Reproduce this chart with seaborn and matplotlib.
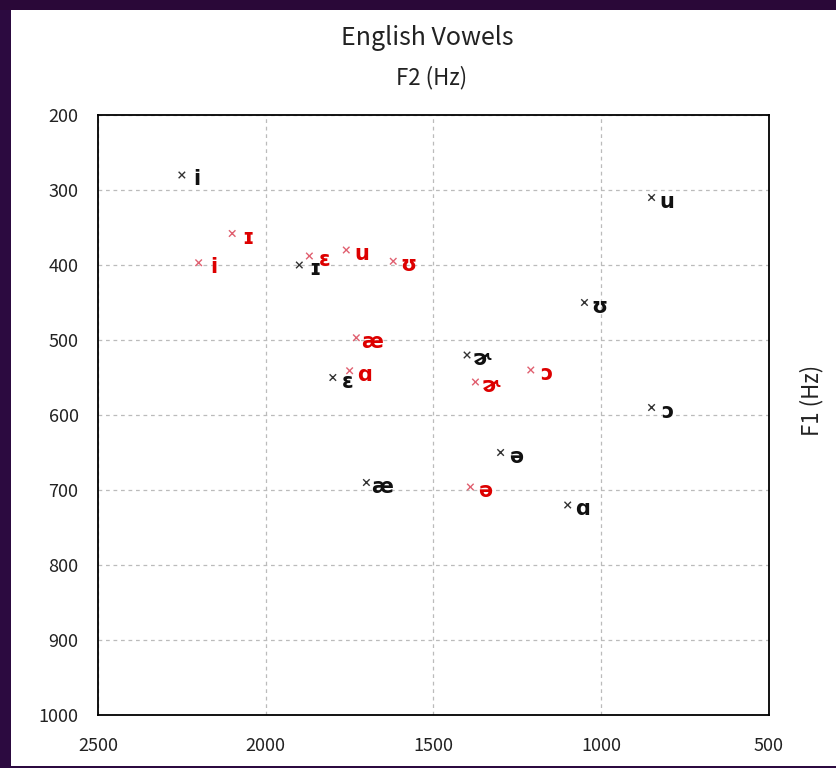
import matplotlib
matplotlib.use("Agg")
import matplotlib.pyplot as plt
import seaborn as sns
import pandas as pd
from matplotlib.patches import Rectangle

sns.set_style("white")
plt.rcParams['font.family'] = ['Noto Sans CJK JP', 'DejaVu Sans']

# Data (F2, F1 in Hz)
black_vowels = ['i', 'ɪ', 'ɛ', 'æ', 'ɚ', 'ə', 'ɑ', 'ʊ', 'u', 'ɔ']
black_f2 = [2250, 1900, 1800, 1700, 1400, 1300, 1100, 1050, 850, 850]
black_f1 = [280, 400, 550, 690, 520, 650, 720, 450, 310, 590]

red_vowels = ['i', 'ɪ', 'ɛ', 'u', 'ʊ', 'æ', 'ɑ', 'ɚ', 'ɔ', 'ə']
red_f2 = [2200, 2100, 1870, 1760, 1620, 1730, 1750, 1375, 1210, 1390]
red_f1 = [397, 358, 388, 380, 395, 497, 541, 556, 540, 696]

x_ticks = [2500, 2000, 1500, 1000, 500]
y_ticks = [200, 300, 400, 500, 600, 700, 800, 900, 1000]

df = pd.concat([
    pd.DataFrame({'vowel': black_vowels, 'F2': black_f2, 'F1': black_f1, 'set': 'black'}),
    pd.DataFrame({'vowel': red_vowels, 'F2': red_f2, 'F1': red_f1, 'set': 'red'}),
], ignore_index=True)

fig = plt.figure(figsize=(8.37, 7.68), dpi=100)
fig.patch.set_facecolor('#2c0a40')
# white canvas inside the purple frame
fig.patches.append(Rectangle((11 / 837, 2 / 768), 1, 756 / 768, transform=fig.transFigure,
                             facecolor='white', edgecolor='none', zorder=0))
ax = fig.add_axes([98 / 837, 1 - 715 / 768, 671 / 837, 600 / 768])
ax.set_zorder(2)

marker_colors = {'black': '#333333', 'red': '#e06070'}
label_colors = {'black': '#111111', 'red': '#dd0000'}

sns.scatterplot(data=df, x='F2', y='F1', hue='set', palette=marker_colors, marker='x',
                s=22, linewidth=1.0, legend=False, ax=ax, zorder=3)

for _, r in df.iterrows():
    ax.annotate(r['vowel'], (r['F2'], r['F1']), xytext=(11, -3), textcoords='offset points',
                ha='center', va='center', fontsize=15, fontweight='bold',
                family='DejaVu Sans', color=label_colors[r['set']], zorder=4)

ax.set_xlim(2500, 500)
ax.set_ylim(1000, 200)
ax.set_xticks(x_ticks)
ax.set_yticks(y_ticks)
ax.tick_params(labelsize=13, length=0, labelcolor='#222222')
ax.tick_params(axis='x', pad=16)
ax.tick_params(axis='y', pad=14)
ax.grid(True, color='#bbbbbb', linestyle=(0, (3, 3)), linewidth=0.9)
for sp in ax.spines.values():
    sp.set_color('black')
    sp.set_linewidth(1.3)

ax.set_xlabel('')
ax.set_ylabel('')
fig.text(427 / 837, 1 - 38 / 768, 'English Vowels', ha='center', va='center', fontsize=18, color='#222222')
fig.text(432 / 837, 1 - 78 / 768, 'F2 (Hz)', ha='center', va='center', fontsize=16, color='#222222')
fig.text(812 / 837, 1 - 400 / 768, 'F1 (Hz)', ha='center', va='center', rotation=90, fontsize=16, color='#222222')

# purple top band
fig.patches.append(Rectangle((0, 1 - 10 / 768), 1, 10 / 768, transform=fig.transFigure,
                             facecolor='#2a0838', edgecolor='none', zorder=0))

fig.savefig('out.png', dpi=100, facecolor=fig.get_facecolor())
